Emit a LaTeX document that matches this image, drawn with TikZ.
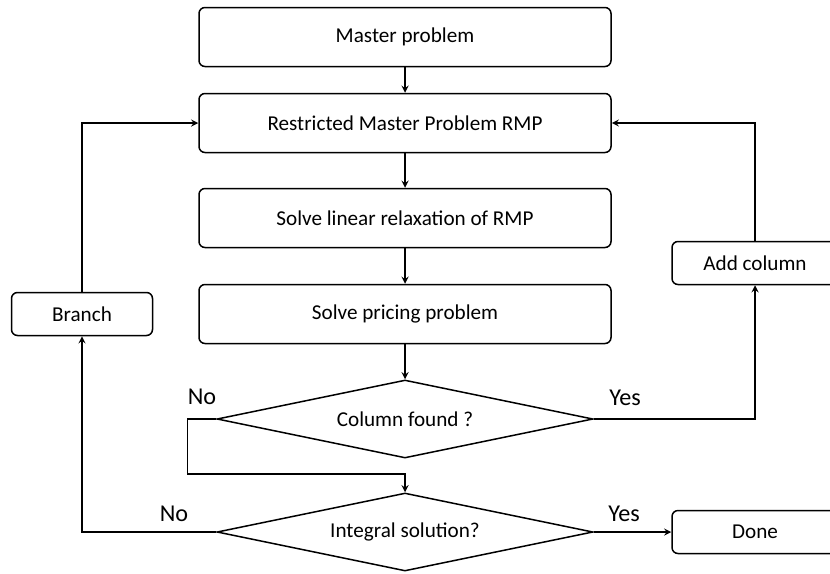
\documentclass[tikz,border=0pt]{standalone}
\usepackage{fontspec}
\setmainfont{Carlito}
\usetikzlibrary{shapes.geometric}
\begin{document}
\begin{tikzpicture}[>=stealth, x=0.6pt, y=-0.6pt, line width=0.9pt,
    box/.style={draw, rounded corners=3.6pt, minimum width=247.2pt, minimum height=35.4pt, inner sep=0pt, font=\fontsize{12.7}{15}\selectfont},
    sidebox/.style={box, minimum width=99.6pt, minimum height=25.8pt},
    decision/.style={draw, diamond, aspect=4.8, inner sep=0pt, minimum width=225.6pt, minimum height=46.8pt, font=\fontsize{12.7}{15}\selectfont},
    lbl/.style={font=\fontsize{14.5}{17}\selectfont}]
\useasboundingbox (0,0) rectangle (830,573);

\node[box] (master) at (405,37) {Master problem};
\node[box] (rmp) at (405,123) {Restricted Master Problem RMP};
\node[box] (relax) at (405,218) {Solve linear relaxation of RMP};
\node[box] (pricing) at (405,314) {Solve pricing problem};
\node[decision] (found) at (405,419) {Column found ?};
\node[decision] (integral) at (405,532) {Integral solution?};

\node[sidebox, minimum width=84.6pt] (branch) at (82,314) {Branch};
\node[sidebox] (addcol) at (755,263) {Add column};
\node[sidebox] (done) at (755,532) {Done};
\coordinate (join) at (405,474);

\draw[->](master)--(rmp);
\draw[->](rmp)--(relax);
\draw[->](relax)--(pricing);
\draw[->](pricing)--(found);
\draw[->](found.west)--++(-29,0)|-(join)--(integral);
\draw[->](found.east)-|(addcol.south);
\draw[->](addcol.north)|-(rmp.east);
\draw[->](integral.west)-|(branch.south);
\draw[->](branch.north)|-(rmp.west);
\draw[->](integral.east)--(done);

\node[lbl] (no1) at (202,397){No};
\node[lbl] (yes1) at (625,398){Yes};
\node[lbl] (no2) at (174,514){No};
\node[lbl] (yes2) at (624,514){Yes};

\end{tikzpicture}
\end{document}
